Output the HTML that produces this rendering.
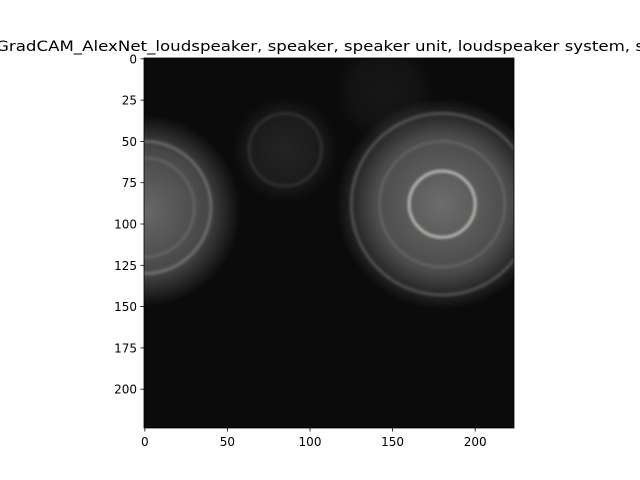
<!DOCTYPE html>
<html><head><meta charset="utf-8"><style>
html,body{margin:0;padding:0;background:#fff;}
svg{display:block;font-family:"DejaVu Sans","Liberation Sans",sans-serif;}
</style></head><body>
<svg id="chart" width="640" height="480" viewBox="0 0 640 480">
<defs>
<radialGradient id="glow"><stop offset="0" stop-color="#fff" stop-opacity="1"/><stop offset="0.65" stop-color="#fff" stop-opacity="0.65"/><stop offset="1" stop-color="#fff" stop-opacity="0"/></radialGradient>
<clipPath id="imgclip"><rect x="144" y="58" width="370" height="370"/></clipPath>
<filter id="soft" x="-20%" y="-20%" width="140%" height="140%"><feGaussianBlur stdDeviation="1.2"/></filter>
</defs>
<text x="-4" y="51" font-size="14" fill="#000" textLength="648" lengthAdjust="spacingAndGlyphs">GradCAM_AlexNet_loudspeaker, speaker, speaker unit, loudspeaker system, s</text>
<g id="img" clip-path="url(#imgclip)">
<rect x="144" y="58" width="370" height="370" fill="#0b0b0b"/>
</g>
<rect x="144" y="58" width="370" height="370" fill="none" stroke="#000" stroke-width="0.8"/>
<g id="xt"></g><g id="yt"></g>
</svg>
<script>
const blobX=[0,180,85,145];
const blobY=[92,88,55,20];
const blobR=[58,64,32,30];
const blobI=[0.38,0.4,0.1,0.05];
const ringX=[0,0,180,180,180,85];
const ringY=[90,90,88,88,88,55];
const ringR=[40,30,20,38,55,22];
const ringI=[0.3,0.15,0.75,0.15,0.25,0.12];
const xTicks=[0,50,100,150,200];
const yTicks=[0,25,50,75,100,125,150,175,200];
const NS="http://www.w3.org/2000/svg";
const X0=144,Y0=58,S=370/224;
const sx=v=>X0+(v+0.5)*S, sy=v=>Y0+(v+0.5)*S;
const img=document.getElementById('img');
function mk(t,a){const e=document.createElementNS(NS,t);for(const k in a)e.setAttribute(k,a[k]);return e;}
blobX.forEach((v,i)=>{const c=mk('circle',{cx:sx(v),cy:sy(blobY[i]),r:blobR[i]*S,fill:'url(#glow)','fill-opacity':blobI[i]});


img.appendChild(c);});
ringX.forEach((v,i)=>{const c=mk('circle',{cx:sx(v),cy:sy(ringY[i]),r:ringR[i]*S,fill:'none',stroke:'#d8d0c8','stroke-width':3,'stroke-opacity':ringI[i],filter:'url(#soft)'});


img.appendChild(c);});
const xt=document.getElementById('xt'),yt=document.getElementById('yt');
xTicks.forEach(v=>{const x=sx(v);
const l=mk('line',{x1:x,x2:x,y1:428,y2:431.5,stroke:'#000','stroke-width':0.8});


xt.appendChild(l);
const t=mk('text',{x:x,y:446,'font-size':12,'text-anchor':'middle'});t.textContent=v;


xt.appendChild(t);});
yTicks.forEach(v=>{const y=sy(v);
const l=mk('line',{x1:140.5,x2:144,y1:y,y2:y,stroke:'#000','stroke-width':0.8});


yt.appendChild(l);
const t=mk('text',{x:137,y:y+4.5,'font-size':12,'text-anchor':'end'});t.textContent=v;


yt.appendChild(t);});
</script>
</body></html>
